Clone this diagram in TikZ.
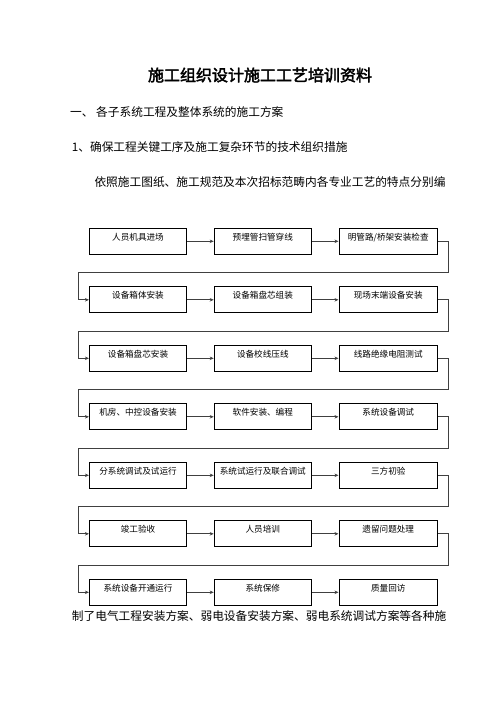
\documentclass[tikz,border=0pt]{standalone}
\usepackage{fontspec}
\setmainfont{Noto Sans CJK SC}
\newfontfamily\titlefont[FakeBold=2.5]{Noto Sans CJK SC}
\usetikzlibrary{positioning,arrows.meta}

\begin{document}
\begin{tikzpicture}[x=1pt,y=-1pt,node distance=26.6pt]
	\tikzstyle{every node}=[inner sep=0pt]
	\tikzstyle{stepbox}=[draw=black,line width=0.8pt,minimum width=97.4pt,minimum height=26pt,
		text height=6pt,text depth=8pt,font=\fontsize{8.6}{10}\selectfont]
	\tikzstyle{lastbox}=[stepbox,minimum width=98.7pt]
	\tikzstyle{para}=[anchor=west,font=\fontsize{11.7}{14}\selectfont]
	\tikzstyle{flow}=[draw=black!75,line width=0.8pt,-{Stealth[length=4pt,width=3.5pt]}]
	\useasboundingbox (0,0) rectangle (496,702);
	% text above the chart
	\node (title) at (260,75) {\titlefont\fontsize{16}{18}\selectfont 施工组织设计施工工艺培训资料};
	\node[para] (sec1) at (70,112.3) {一、 各子系统工程及整体系统的施工方案};
	\node[para] (sub1) at (71.7,147.3) {1、确保工程关键工序及施工复杂环节的技术组织措施};
	\node[para] (txt1) at (94.3,181.7) {依照施工图纸、施工规范及本次招标范畴内各专业工艺的特点分别编};
	% row 1
	\node[stepbox] (r1c1) at (138,241.3) {人员机具进场};
	\node[stepbox,right=of r1c1] (r1c2) {预埋管扫管穿线};
	\node[lastbox,right=of r1c2] (r1c3) {明管路/桥架安装检查};
	% row 2
	\node[stepbox] (r2c1) at (138,299.8) {设备箱体安装};
	\node[stepbox,right=of r2c1] (r2c2) {设备箱盘芯组装};
	\node[lastbox,right=of r2c2] (r2c3) {现场末端设备安装};
	% row 3
	\node[stepbox] (r3c1) at (138,358.3) {设备箱盘芯安装};
	\node[stepbox,right=of r3c1] (r3c2) {设备校线压线};
	\node[lastbox,right=of r3c2] (r3c3) {线路绝缘电阻测试};
	% row 4
	\node[stepbox] (r4c1) at (138,416.8) {机房、中控设备安装};
	\node[stepbox,right=of r4c1] (r4c2) {软件安装、编程};
	\node[lastbox,right=of r4c2] (r4c3) {系统设备调试};
	% row 5
	\node[stepbox] (r5c1) at (138,475.3) {分系统调试及试运行};
	\node[stepbox,right=of r5c1] (r5c2) {系统试运行及联合调试};
	\node[lastbox,right=of r5c2] (r5c3) {三方初验};
	% row 6
	\node[stepbox] (r6c1) at (138,533.8) {竣工验收};
	\node[stepbox,right=of r6c1] (r6c2) {人员培训};
	\node[lastbox,right=of r6c2] (r6c3) {遗留问题处理};
	% row 7
	\node[stepbox] (r7c1) at (138,592.3) {系统设备开通运行};
	\node[stepbox,right=of r7c1] (r7c2) {系统保修};
	\node[lastbox,right=of r7c2] (r7c3) {质量回访};
	% text below the chart
	\node[para] (txt2) at (71.7,615.7) {制了电气工程安装方案、弱电设备安装方案、弱电系统调试方案等各种施};
	% arrows along each row
	\foreach \r in {1,...,7} {
		\draw[flow] (r\r c1.east) -- (r\r c2.west);
		\draw[flow] (r\r c2.east) -- (r\r c3.west);
	}
	% turns from one row to the next
	\foreach \r [evaluate=\r as \n using int(\r+1)] in {1,...,6} {
		\draw[flow] (r\r c3.east) -- ++(10.7,0) |- ([xshift=-11pt,yshift=14pt]r\n c1.north west) |- (r\n c1.west);
	}
\end{tikzpicture}
\end{document}
